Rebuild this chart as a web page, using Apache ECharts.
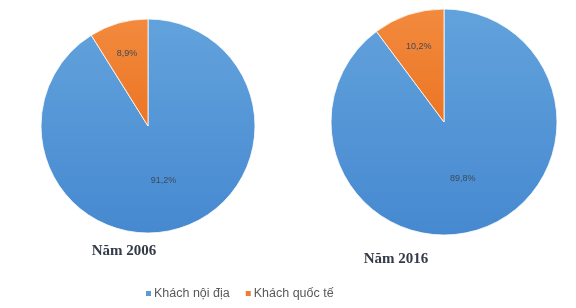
<!DOCTYPE html>
<html><head><meta charset="utf-8">
<script src="https://cdn.jsdelivr.net/npm/echarts@6/dist/echarts.min.js"></script>
<style>html,body{margin:0;padding:0;background:#fff}#c{width:576px;height:308px}</style>
</head><body><div id="c"></div>
<script>
const categories = ['Khách nội địa', 'Khách quốc tế'];
const years = ['Năm 2006', 'Năm 2016'];
const values2006 = [91.2, 8.9];
const values2016 = [89.8, 10.2];
const labels2006 = ['91,2%', '8,9%'];
const labels2016 = ['89,8%', '10,2%'];

const colors = [
  new echarts.graphic.LinearGradient(0, 0, 0, 1, [{offset: 0, color: '#62a2dc'}, {offset: 1, color: '#4689d0'}]),
  new echarts.graphic.LinearGradient(0, 0, 0, 1, [{offset: 0, color: '#f28a3e'}, {offset: 1, color: '#ec7524'}])
];
const legendColors = ['#5b9bd5', '#ed7d31'];
const labelRadiusFrac = [0.5, 0.68];

const pies = [
  {vals: values2006, labs: labels2006, center: [148, 126], radius: 107},
  {vals: values2016, labs: labels2016, center: [444, 122], radius: 113}
];

function makeSeries(p) {
  return {
    type: 'pie', center: p.center, radius: p.radius, startAngle: 90, clockwise: true,
    avoidLabelOverlap: false, animation: false,
    itemStyle: {borderColor: '#ffffff', borderWidth: 0.8},
    label: {show: true, position: 'inside', fontSize: 9, color: '#3d4a5c', fontFamily: 'Liberation Sans',
      formatter: q => p.labs[q.dataIndex]},
    labelLine: {show: false},
    emphasis: {disabled: true},
    labelLayout: function (q) {
      const vals = p.vals;
      const total = vals.reduce((a, b) => a + b, 0);
      let cum = 0;
      for (let k = 0; k < q.dataIndex; k++) cum += vals[k];
      const th = (cum + vals[q.dataIndex] / 2) / total * 2 * Math.PI;
      const d = (labelRadiusFrac[q.dataIndex] - 0.5) * p.radius;
      return {dx: d * Math.sin(th), dy: -d * Math.cos(th)};
    },
    data: categories.map((c, i) => ({name: c, value: p.vals[i], itemStyle: {color: colors[i]}}))
  };
}

const chart = echarts.init(document.getElementById('c'), null, {renderer: 'canvas'});
chart.setOption({
  backgroundColor: '#ffffff',
  color: legendColors,
  title: [
    {text: years[0], left: 119, top: 239, textAlign: 'center',
     textStyle: {fontFamily: 'Liberation Serif', fontWeight: 'bold', fontSize: 15, color: '#333a48'}},
    {text: years[1], left: 391, top: 247, textAlign: 'center',
     textStyle: {fontFamily: 'Liberation Serif', fontWeight: 'bold', fontSize: 15, color: '#333a48'}}
  ],
  legend: {
    data: categories.map((c, i) => ({name: c, itemStyle: {color: legendColors[i]}})),
    left: 139, top: 282, itemWidth: 7, itemHeight: 7, itemGap: 14, icon: 'rect',
    textStyle: {fontFamily: 'Liberation Sans', fontSize: 12.5, color: '#595959', padding: [0, 0, 0, -3]}
  },
  series: pies.map(makeSeries)
});
</script></body></html>
